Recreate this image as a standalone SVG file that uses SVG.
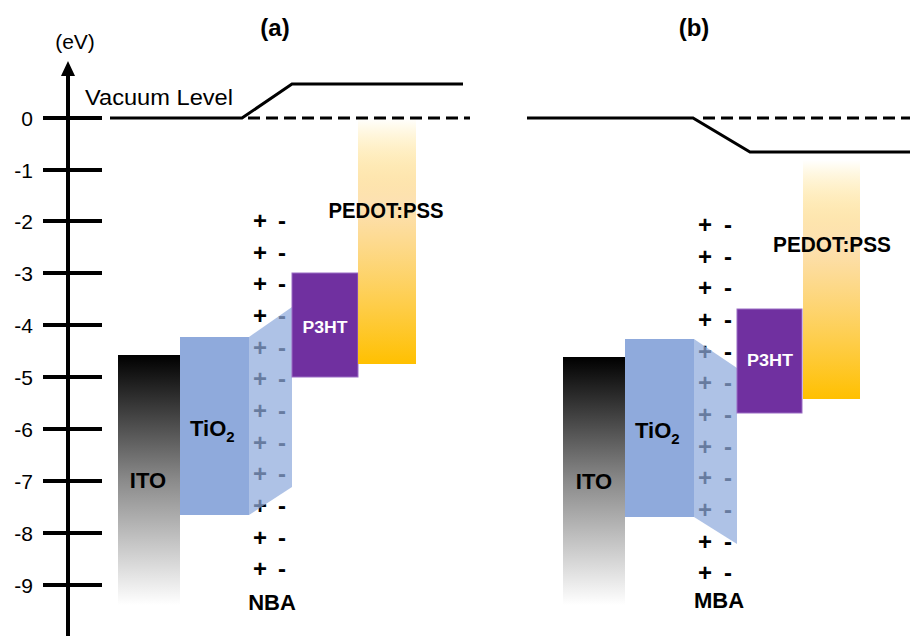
<svg xmlns="http://www.w3.org/2000/svg" width="910" height="636" viewBox="0 0 910 636">
<defs>
<linearGradient id="ito" x1="0" y1="0" x2="0" y2="1">
<stop offset="0" stop-color="#000"/>
<stop offset="0.5" stop-color="#8a8a8a"/>
<stop offset="1" stop-color="#fff"/>
</linearGradient>
<linearGradient id="pedot" x1="0" y1="0" x2="0" y2="1">
<stop offset="0" stop-color="#ffc000" stop-opacity="0"/>
<stop offset="0.35" stop-color="#fcd9a0" stop-opacity="0.8"/>
<stop offset="1" stop-color="#ffc000"/>
</linearGradient>
<style>
text{font-family:"Liberation Sans",Arial,sans-serif;fill:#000}
.num{font-size:21px;text-anchor:end}
.b{font-weight:bold}
.lbl{font-size:22px;font-weight:bold;text-anchor:middle}
.sg{font-size:24px;font-weight:bold;text-anchor:middle}
.tick{stroke:#000;stroke-width:4}
.solid{stroke:#000;stroke-width:3;fill:none}
.dash{stroke:#000;stroke-width:3;stroke-dasharray:12 6;fill:none}
.tio2{fill:#8faadc}
.trap{fill:#8faadc;fill-opacity:0.72}
.p3ht{fill:#7030a0;stroke:#9a6cc4;stroke-width:1}
.pt{font-size:16px;font-weight:bold;text-anchor:middle;fill:#fff}
</style>
</defs>
<rect width="910" height="636" fill="#fff"/>

<g id="axis">
<line x1="68" y1="72" x2="68" y2="636" class="tick"/>
<polygon points="68,61 61,76 75,76" fill="#000"/>
<line x1="43" y1="118" x2="102" y2="118" class="tick"/>
<line x1="43" y1="170" x2="102" y2="170" class="tick"/>
<line x1="43" y1="221" x2="102" y2="221" class="tick"/>
<line x1="43" y1="273" x2="102" y2="273" class="tick"/>
<line x1="43" y1="325" x2="102" y2="325" class="tick"/>
<line x1="43" y1="377" x2="102" y2="377" class="tick"/>
<line x1="43" y1="429" x2="102" y2="429" class="tick"/>
<line x1="43" y1="481" x2="102" y2="481" class="tick"/>
<line x1="43" y1="533" x2="102" y2="533" class="tick"/>
<line x1="43" y1="585" x2="102" y2="585" class="tick"/>
<text class="num" x="33" y="126">0</text>
<text class="num" x="33" y="178">-1</text>
<text class="num" x="33" y="229">-2</text>
<text class="num" x="33" y="281">-3</text>
<text class="num" x="33" y="333">-4</text>
<text class="num" x="33" y="385">-5</text>
<text class="num" x="33" y="437">-6</text>
<text class="num" x="33" y="489">-7</text>
<text class="num" x="33" y="541">-8</text>
<text class="num" x="33" y="593">-9</text>
<text x="75" y="49" font-size="21" text-anchor="middle">(eV)</text>
</g>

<g id="titles">
<text x="275" y="36" font-size="24" font-weight="bold" text-anchor="middle">(a)</text>
<text x="694" y="36" font-size="24" font-weight="bold" text-anchor="middle">(b)</text>
<text x="85" y="105" font-size="22" textLength="148" lengthAdjust="spacingAndGlyphs">Vacuum Level</text>
</g>

<g id="vacuum-a">
<polyline class="solid" points="110,118 242,118 292,84 463,84"/>
<line class="dash" x1="248" y1="118" x2="470" y2="118"/>
</g>
<g id="vacuum-b">
<polyline class="solid" points="527,118 693,118 750,152 910,152"/>
<line class="dash" x1="703" y1="118" x2="910" y2="118"/>
</g>

<!-- Panel (a) -->
<g id="ito-a">
<rect x="118" y="355" width="62" height="250" fill="url(#ito)"/>
<text class="lbl" x="148" y="488">ITO</text>
</g>
<g id="tio2-a">
<rect class="tio2" x="180" y="337" width="69" height="178"/>
<text class="b" x="190" y="436" font-size="22">TiO<tspan font-size="15" dy="6">2</tspan></text>
</g>
<g id="signs-a">
<text class="sg" x="260" y="229">+</text><text class="sg" x="282" y="229">-</text>
<text class="sg" x="260" y="261">+</text><text class="sg" x="282" y="261">-</text>
<text class="sg" x="260" y="292">+</text><text class="sg" x="282" y="292">-</text>
<text class="sg" x="260" y="324">+</text><text class="sg" x="282" y="324">-</text>
<text class="sg" x="260" y="356">+</text><text class="sg" x="282" y="356">-</text>
<text class="sg" x="260" y="387">+</text><text class="sg" x="282" y="387">-</text>
<text class="sg" x="260" y="419">+</text><text class="sg" x="282" y="419">-</text>
<text class="sg" x="260" y="451">+</text><text class="sg" x="282" y="451">-</text>
<text class="sg" x="260" y="482">+</text><text class="sg" x="282" y="482">-</text>
<text class="sg" x="260" y="514">+</text><text class="sg" x="282" y="514">-</text>
<text class="sg" x="260" y="546">+</text><text class="sg" x="282" y="546">-</text>
<text class="sg" x="260" y="577">+</text><text class="sg" x="282" y="577">-</text>
<text class="lbl" x="272" y="610">NBA</text>
</g>
<g id="dipole-a">
<polygon class="trap" points="249,337 292,307 292,487 249,515"/>
</g>
<g id="p3ht-a">
<rect class="p3ht" x="292" y="273" width="66" height="104"/>
<text class="pt" x="325" y="333" textLength="45" lengthAdjust="spacingAndGlyphs" style="fill:#fff">P3HT</text>
</g>
<g id="pedot-a">
<rect x="358" y="118" width="58" height="246" fill="url(#pedot)"/>
<text class="lbl" x="386" y="218" textLength="115" lengthAdjust="spacingAndGlyphs">PEDOT:PSS</text>
</g>

<!-- Panel (b) -->
<g id="ito-b">
<rect x="563" y="357" width="62" height="248" fill="url(#ito)"/>
<text class="lbl" x="594" y="489">ITO</text>
</g>
<g id="tio2-b">
<rect class="tio2" x="625" y="339" width="69" height="178"/>
<text class="b" x="635" y="438" font-size="22">TiO<tspan font-size="15" dy="6">2</tspan></text>
</g>
<g id="signs-b">
<text class="sg" x="705" y="233">+</text><text class="sg" x="728" y="233">-</text>
<text class="sg" x="705" y="265">+</text><text class="sg" x="728" y="265">-</text>
<text class="sg" x="705" y="296">+</text><text class="sg" x="728" y="296">-</text>
<text class="sg" x="705" y="328">+</text><text class="sg" x="728" y="328">-</text>
<text class="sg" x="705" y="360">+</text><text class="sg" x="728" y="360">-</text>
<text class="sg" x="705" y="391">+</text><text class="sg" x="728" y="391">-</text>
<text class="sg" x="705" y="423">+</text><text class="sg" x="728" y="423">-</text>
<text class="sg" x="705" y="455">+</text><text class="sg" x="728" y="455">-</text>
<text class="sg" x="705" y="486">+</text><text class="sg" x="728" y="486">-</text>
<text class="sg" x="705" y="518">+</text><text class="sg" x="728" y="518">-</text>
<text class="sg" x="705" y="550">+</text><text class="sg" x="728" y="550">-</text>
<text class="sg" x="705" y="581">+</text><text class="sg" x="728" y="581">-</text>
<text class="lbl" x="719" y="608">MBA</text>
</g>
<g id="dipole-b">
<polygon class="trap" points="694,339 737,368 737,544 694,517"/>
</g>
<g id="p3ht-b">
<rect class="p3ht" x="737" y="309" width="65" height="104"/>
<text class="pt" x="770" y="366" textLength="46" lengthAdjust="spacingAndGlyphs" style="fill:#fff">P3HT</text>
</g>
<g id="pedot-b">
<rect x="803" y="160" width="57" height="239" fill="url(#pedot)"/>
<text class="lbl" x="832" y="252" textLength="118" lengthAdjust="spacingAndGlyphs">PEDOT:PSS</text>
</g>
</svg>
